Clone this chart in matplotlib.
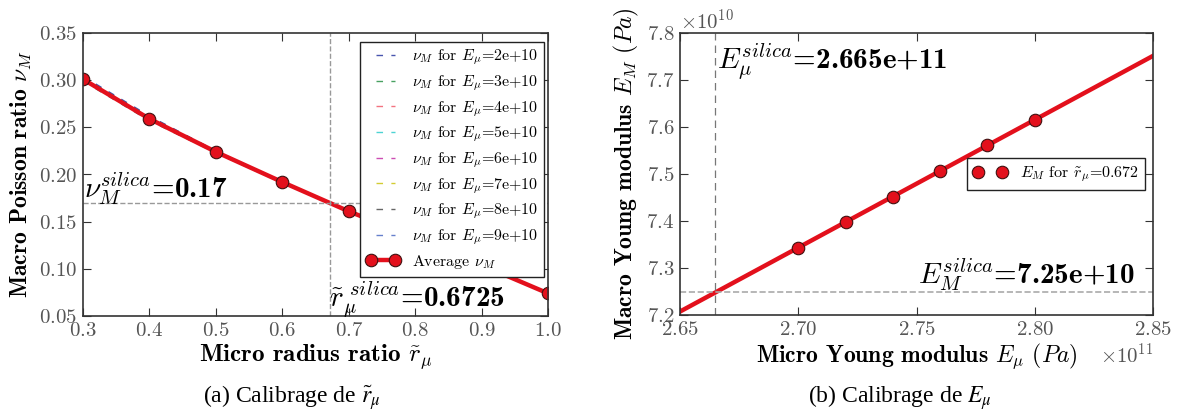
import numpy as np
import matplotlib.pyplot as plt
from matplotlib.ticker import ScalarFormatter

plt.rcParams['font.family'] = 'serif'
plt.rcParams['font.serif'] = ['cmr10']
plt.rcParams['mathtext.fontset'] = 'cm'
plt.rcParams['axes.unicode_minus'] = False
plt.rcParams['axes.formatter.use_mathtext'] = True

# (a) calibration of the micro radius ratio
r_mu = [0.3, 0.4, 0.5, 0.6, 0.7, 0.8, 0.9, 1.0]
nu_avg = [0.301, 0.259, 0.224, 0.192, 0.161, 0.133, 0.104, 0.074]
E_mu_labels = ['2e+10', '3e+10', '4e+10', '5e+10', '6e+10', '7e+10', '8e+10', '9e+10']
nu_per_E = [
    [0.304, 0.262, 0.225, 0.192, 0.161, 0.133, 0.104, 0.074],
    [0.303, 0.261, 0.225, 0.192, 0.161, 0.133, 0.104, 0.074],
    [0.302, 0.260, 0.224, 0.192, 0.161, 0.133, 0.104, 0.074],
    [0.301, 0.259, 0.224, 0.192, 0.161, 0.133, 0.104, 0.074],
    [0.300, 0.258, 0.224, 0.192, 0.161, 0.133, 0.104, 0.074],
    [0.300, 0.258, 0.223, 0.192, 0.161, 0.133, 0.104, 0.074],
    [0.299, 0.257, 0.223, 0.191, 0.161, 0.133, 0.104, 0.074],
    [0.303, 0.261, 0.224, 0.192, 0.161, 0.133, 0.104, 0.074],
]
E_colors = ['#1a2a9a', '#1a8a3a', '#f05060', '#20c8c8', '#c020a0', '#c8c000', '#404040', '#4060c0']
nu_silica = 0.17
r_silica = 0.6725

# (b) calibration of the micro Young modulus
E_mu = [2.70e11, 2.72e11, 2.74e11, 2.76e11, 2.78e11, 2.80e11]
E_M = [7.343e10, 7.398e10, 7.452e10, 7.507e10, 7.561e10, 7.615e10]
E_mu_silica = 2.665e11
E_M_silica = 7.25e10

red = '#e3101c'
tick_col = '#555555'

fig = plt.figure(figsize=(11.78, 4.16), dpi=100)
W, H = 1178, 416
ax1 = fig.add_axes([83 / W, 1 - 316 / H, 465 / W, 283 / H])
ax2 = fig.add_axes([680 / W, 1 - 315 / H, 473 / W, 282 / H])

for ax in (ax1, ax2):
    ax.tick_params(direction='in', length=6, top=True, right=True, labelsize=15,
                   labelcolor=tick_col, color='#333333', pad=4)
    for s in ax.spines.values():
        s.set_color('#333333')
        s.set_linewidth(1.2)

# ---- left panel
for vals, lab, c in zip(nu_per_E, E_mu_labels, E_colors):
    ax1.plot(r_mu, vals, ls=(0, (4.7, 6.0)), color=c, lw=1, alpha=0.8,
             label=r'$\nu_M$ for $E_\mu$=' + lab)
ax1.plot(r_mu, nu_avg, '-o', color=red, lw=3.2, ms=9, mfc=red, mec='#401010',
         mew=0.8, label=r'Average $\nu_M$')
ax1.axhline(nu_silica, color='#999999', ls='--', lw=1)
ax1.axvline(r_silica, color='#999999', ls='--', lw=1)
ax1.set_xlim(0.3, 1.0)
ax1.set_ylim(0.05, 0.35)
ax1.set_yticks(np.arange(0.05, 0.351, 0.05))
ax1.text(0.301, 0.176, r'$\nu_M^{silica}$=0.17', fontsize=21, family='cmb10', zorder=6)
ax1.text(0.671, 0.060, r'$\tilde{r}_\mu^{\ silica}$=0.6725', fontsize=21, family='cmb10', zorder=6)
ax1.set_xlabel(r'Micro radius ratio $\tilde{r}_\mu$', fontsize=18, family='cmb10', labelpad=2)
ax1.set_ylabel(r'Macro Poisson ratio $\nu_M$', fontsize=17, family='cmb10', labelpad=4)
leg1 = ax1.legend(loc='upper right', bbox_to_anchor=(1 - 4 / 465, 1 - 9 / 283),
                  borderaxespad=0, fontsize=11.5, fancybox=False, framealpha=1,
                  edgecolor='#222222', handlelength=2.1, handletextpad=0.8,
                  labelspacing=0.38, borderpad=0.35, numpoints=2)
leg1.get_frame().set_linewidth(1.0)
# legend dashes: two short dashes lined up with the marker span
for hl in leg1.get_lines()[:-1]:
    hl.set_linestyle((0, (0, 3.6, 4.7, 6.0, 5.0, 30)))

# ---- right panel
coef = np.polyfit(E_mu, E_M, 1)
xfit = np.array([2.65e11, 2.85e11])
ax2.plot(xfit, np.polyval(coef, xfit), '-', color=red, lw=3.2)
ax2.plot(E_mu, E_M, 'o', color=red, ms=9, mfc=red, mec='#401010', mew=0.8,
         label=r'$E_M$ for $\tilde{r}_\mu$=0.672')
ax2.axhline(E_M_silica, color='#aaaaaa', ls='--', lw=1.2)
ax2.axvline(E_mu_silica, color='#777777', ls=(0, (6, 4)), lw=0.9)
ax2.set_xlim(2.65e11, 2.85e11)
ax2.set_ylim(7.2e10, 7.8e10)
ax2.set_xticks(np.arange(2.65e11, 2.851e11, 0.05e11))
ax2.set_yticks(np.arange(7.2e10, 7.801e10, 0.1e10))
for axis in (ax2.xaxis, ax2.yaxis):
    axis.set_major_formatter(ScalarFormatter(useMathText=True))
    axis.get_offset_text().set_fontsize(15)
    axis.get_offset_text().set_color(tick_col)
ax2.text(2.6655e11, 7.725e10, r'$E_\mu^{silica}$=2.665e+11', fontsize=21, family='cmb10')
ax2.text(2.7505e11, 7.266e10, r'$E_M^{silica}$=7.25e+10', fontsize=21, family='cmb10')
ax2.set_xlabel(r'Micro Young modulus $E_\mu$ $(Pa)$', fontsize=17, family='cmb10', labelpad=2)
ax2.set_ylabel(r'Macro Young modulus $E_M$ $(Pa)$', fontsize=17, family='cmb10', labelpad=4)
leg2 = ax2.legend(loc='center right', bbox_to_anchor=(1 - 8 / 473, 0.5),
                  borderaxespad=0, fontsize=11.5, fancybox=False, framealpha=1,
                  edgecolor='#222222', numpoints=2, handlelength=2.1, handletextpad=0.8)
leg2.get_frame().set_linewidth(1.0)

# captions
fig.text(292 / W, 1 - 398 / H, r'(a) Calibrage de $\tilde{r}_\mu$', ha='center', va='center',
         fontsize=17, family='Liberation Serif', math_fontfamily='stix')
fig.text(900 / W, 1 - 398 / H, r'(b) Calibrage de $E_\mu$', ha='center', va='center',
         fontsize=17, family='Liberation Serif', math_fontfamily='stix')

fig.savefig('out.png', dpi=100)
